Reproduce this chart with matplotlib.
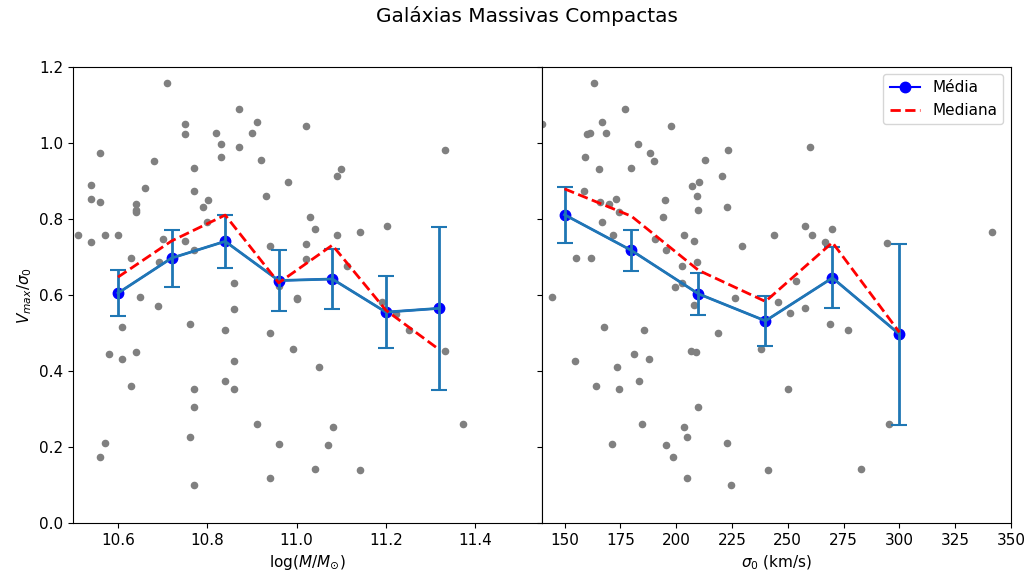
import numpy as np
import matplotlib.pyplot as plt

# binned statistics, mass
mass_bins = [10.60, 10.72, 10.84, 10.96, 11.08, 11.20, 11.32]
mass_mean = [0.605, 0.697, 0.741, 0.638, 0.642, 0.555, 0.565]
mass_err = [0.060, 0.075, 0.070, 0.080, 0.080, 0.095, 0.215]
mass_median = [0.647, 0.742, 0.810, 0.632, 0.731, 0.560, 0.456]

# binned statistics, central dispersion
sig_bins = [150, 180, 210, 240, 270, 300]
sig_mean = [0.811, 0.717, 0.603, 0.532, 0.645, 0.497]
sig_err = [0.074, 0.054, 0.055, 0.065, 0.080, 0.238]
sig_median = [0.879, 0.807, 0.665, 0.583, 0.738, 0.502]

# individual galaxies
logm = [10.710, 10.871, 10.751, 10.751, 10.820, 10.911, 10.901, 11.021, 10.831, 10.871,
        10.831, 10.560, 10.680, 10.921, 10.771, 10.981, 10.540, 10.540, 10.560, 10.660,
        10.771, 10.801, 10.791, 10.931, 10.640, 10.640, 10.640, 10.799, 10.510, 10.540,
        10.570, 10.600, 10.700, 10.751, 10.771, 10.630, 10.691, 10.860, 10.941, 11.021,
        11.021, 11.031, 10.649, 10.961, 11.001,
        11.332, 11.100, 11.091, 11.041, 11.091, 11.142, 11.202, 11.112,
        10.690, 10.610, 10.761, 10.840, 10.860, 10.941, 11.002, 10.991, 10.580, 10.610,
        10.640, 10.860, 10.629, 10.771, 10.840, 10.860, 10.771, 10.911, 10.761, 10.570,
        10.560, 10.961, 10.941, 10.771,
        11.051, 11.192, 11.222, 11.252, 11.332, 11.081, 11.071, 11.041, 11.142, 11.372]
vrot_m = [1.156, 1.089, 1.049, 1.022, 1.026, 1.055, 1.025, 1.043, 0.996, 0.988,
          0.963, 0.974, 0.953, 0.955, 0.935, 0.896, 0.888, 0.853, 0.844, 0.881,
          0.874, 0.850, 0.832, 0.860, 0.840, 0.824, 0.818, 0.791, 0.759, 0.738,
          0.758, 0.757, 0.747, 0.741, 0.717, 0.696, 0.688, 0.632, 0.730, 0.735,
          0.695, 0.804, 0.596, 0.623, 0.591,
          0.982, 0.931, 0.912, 0.774, 0.757, 0.766, 0.782, 0.675,
          0.572, 0.515, 0.524, 0.509, 0.564, 0.500, 0.589, 0.458, 0.446, 0.432,
          0.450, 0.426, 0.360, 0.352, 0.373, 0.353, 0.306, 0.260, 0.226, 0.211,
          0.173, 0.209, 0.120, 0.101,
          0.411, 0.581, 0.551, 0.509, 0.454, 0.253, 0.207, 0.142, 0.140, 0.260]

sigma0 = [139.8, 163.2, 176.9, 166.8, 160.2, 161.2, 168.6, 197.7, 182.9, 188.5,
          190.0, 159.1, 165.4, 180.0, 223.2, 212.9, 220.5, 207.2, 210.2, 158.7,
          209.3, 166.0, 169.8, 173.0, 174.4, 195.2, 210.0, 222.6, 193.9, 166.6,
          171.6, 190.5, 203.6, 208.2, 244.0, 229.6, 195.4, 155.2, 162.0, 202.7,
          209.4, 202.8, 199.3, 144.5, 226.3,
          260.0, 257.9, 261.0, 270.0, 266.7, 294.4, 341.4, 253.7,
          208.1, 245.5, 167.8, 185.8, 218.6, 154.6, 181.1, 187.9, 173.7, 206.6,
          208.7, 238.0, 164.1, 174.2, 183.5, 209.7, 184.9, 203.6, 204.9, 171.2,
          195.5, 222.9, 198.5, 241.2, 204.9, 224.7,
          250.9, 257.6, 269.1, 276.9, 250.3, 295.4, 282.9]
vrot_s = [1.050, 1.156, 1.089, 1.055, 1.024, 1.025, 1.026, 1.043, 0.996, 0.974,
          0.953, 0.963, 0.931, 0.935, 0.982, 0.955, 0.912, 0.887, 0.896, 0.874,
          0.861, 0.844, 0.840, 0.853, 0.817, 0.850, 0.824, 0.832, 0.804, 0.791,
          0.758, 0.747, 0.759, 0.741, 0.757, 0.730, 0.717, 0.696, 0.696, 0.675,
          0.688, 0.632, 0.621, 0.596, 0.591,
          0.988, 0.782, 0.757, 0.774, 0.738, 0.736, 0.765, 0.638,
          0.573, 0.582, 0.515, 0.509, 0.500, 0.426, 0.446, 0.432, 0.411, 0.454,
          0.450, 0.457, 0.360, 0.353, 0.373, 0.306, 0.260, 0.253, 0.226, 0.209,
          0.207, 0.211, 0.173, 0.140, 0.120, 0.101,
          0.553, 0.565, 0.524, 0.509, 0.352, 0.260, 0.142]

plt.rcParams['font.size'] = 11

fig, (ax1, ax2) = plt.subplots(1, 2, figsize=(10.3, 5.81), dpi=100, sharey=True)
fig.subplots_adjust(left=0.0712, right=0.9816, bottom=0.0993, top=0.8852, wspace=0)


def panel(ax, xs, ys, bins, mean, err, median):
    ax.scatter(xs, ys, s=20, color='gray', zorder=1)
    ax.plot(bins, mean, 'o-', color='blue', markersize=7.5, label='Média', zorder=2)
    ax.errorbar(bins, mean, yerr=err, color='C0', linewidth=2, capsize=6,
                elinewidth=2, capthick=1.5, zorder=3)
    ax.plot(bins, median, 'r--', linewidth=2, label='Mediana', zorder=4)


panel(ax1, logm, vrot_m, mass_bins, mass_mean, mass_err, mass_median)
panel(ax2, sigma0, vrot_s, sig_bins, sig_mean, sig_err, sig_median)

ax1.set_xlim(10.5, 11.55)
ax1.set_xticks([10.6, 10.8, 11.0, 11.2, 11.4])
ax1.set_ylim(0, 1.2)
ax1.set_xlabel(r'$\log(M/M_{\odot})$')
ax1.set_ylabel(r'$V_{max}/\sigma_0$')

ax2.set_xlim(140, 350)
ax2.set_xticks(np.arange(150, 351, 25))
ax2.set_xlabel(r'$\sigma_0$ (km/s)')
ax2.tick_params(axis='y', left=True, labelleft=False)
ax2.legend(loc='upper right')

fig.suptitle('Galáxias Massivas Compactas', fontsize=14.4, x=0.512, y=0.99)

fig.savefig('out.png', dpi=100)
